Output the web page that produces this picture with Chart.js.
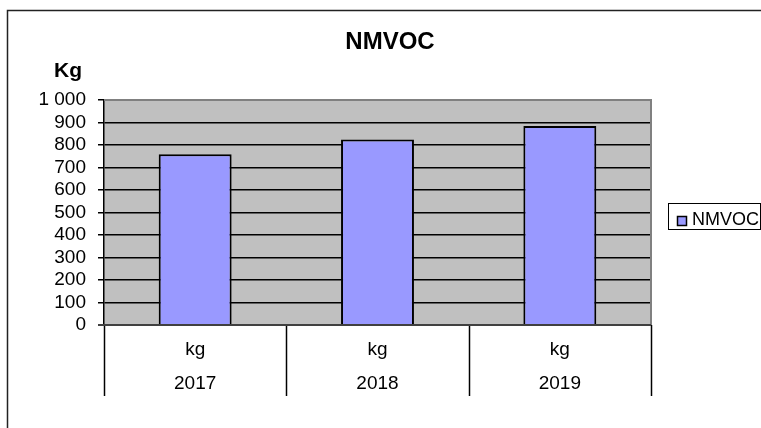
<!DOCTYPE html>
<html>
<head>
<meta charset="utf-8">
<script src="https://cdn.jsdelivr.net/npm/chart.js@4/dist/chart.umd.min.js"></script>
<style>
  html, body { margin: 0; padding: 0; background: #fff; }
  #wrap { width: 761px; height: 428px; position: relative; }
</style>
</head>
<body>
<div id="wrap"><canvas id="myChart" width="761" height="428"></canvas></div>
<script>
const years = ['2017', '2018', '2019'];
const units = ['kg', 'kg', 'kg'];
const nmvoc = [759, 825, 884];
const yTicks = [0, 100, 200, 300, 400, 500, 600, 700, 800, 900, 1000];

const FONT = "'Liberation Sans', Arial, sans-serif";

// grey plot area, outer frame, separators, title, legend
const excelLook = {
    id: 'excelLook',
    beforeDraw(chart) {
        const { ctx, chartArea: { left, top, right, bottom } } = chart;
        ctx.save();
        ctx.fillStyle = '#C0C0C0';
        ctx.fillRect(left, top, right - left, bottom - top);
        ctx.restore();
    },
    afterDraw(chart) {
        const { ctx, chartArea: { left, top, right, bottom }, scales: { x } } = chart;
        ctx.save();
        // plot frame (top and right)
        ctx.strokeStyle = '#808080';
        ctx.lineWidth = 2;
        ctx.beginPath();
        ctx.moveTo(left, top);
        ctx.lineTo(right, top);
        ctx.lineTo(right, bottom);
        ctx.stroke();

        // category separators below the axis
        ctx.strokeStyle = '#000';
        ctx.lineWidth = 1.5;
        const edges = [left];
        for (let i = 0; i < years.length - 1; i++) {
            edges.push((x.getPixelForValue(i) + x.getPixelForValue(i + 1)) / 2);
        }
        edges.push(right);
        edges.forEach(px => {
            ctx.beginPath();
            ctx.moveTo(Math.round(px) + 0.5, bottom);
            ctx.lineTo(Math.round(px) + 0.5, 396);
            ctx.stroke();
        });

        // bottom axis line
        ctx.strokeStyle = '#404040';
        ctx.lineWidth = 2;
        ctx.beginPath();
        ctx.moveTo(left - 6, bottom);
        ctx.lineTo(right, bottom);
        ctx.stroke();

        // outer chart frame
        ctx.strokeStyle = '#222';
        ctx.lineWidth = 1.5;
        ctx.beginPath();
        ctx.moveTo(7.5, 428);
        ctx.lineTo(7.5, 10.5);
        ctx.lineTo(761, 10.5);
        ctx.stroke();

        // title and axis title
        ctx.fillStyle = '#000';
        ctx.textAlign = 'center';
        ctx.textBaseline = 'alphabetic';
        ctx.font = 'bold 24px ' + FONT;
        ctx.fillText('NMVOC', 390, 49);
        ctx.font = 'bold 21px ' + FONT;
        ctx.fillText('Kg', 68, 77);

        // legend
        ctx.strokeStyle = '#000';
        ctx.lineWidth = 1;
        ctx.strokeRect(668.5, 203.5, 92, 26);
        ctx.fillStyle = '#9999FF';
        ctx.fillRect(677.5, 216.5, 9, 9);
        ctx.lineWidth = 1.5;
        ctx.strokeRect(677.5, 216.5, 9, 9);
        ctx.fillStyle = '#000';
        ctx.textAlign = 'left';
        ctx.font = '18px ' + FONT;
        ctx.fillText('NMVOC', 692, 225);
        ctx.restore();
    }
};

const config = {
    type: 'bar',
    data: {
        labels: years.map((y, i) => [units[i], y]),
        datasets: [{
            label: 'NMVOC',
            data: nmvoc,
            backgroundColor: '#9999FF',
            borderColor: '#000',
            borderWidth: 2,
            barPercentage: 0.4,
            categoryPercentage: 1
        }]
    },
    options: {
        responsive: false,
        animation: false,
        layout: { padding: { left: 0, top: 100, right: 110, bottom: 0 } },
        plugins: {
            legend: { display: false },
            title: { display: false },
            tooltip: { enabled: false }
        },
        scales: {
            x: {
                grid: { display: false, drawTicks: false },
                border: { display: false },
                ticks: {
                    color: '#000',
                    font: { family: FONT, size: 19, lineHeight: 1.79 },
                    padding: 8,
                    maxRotation: 0,
                    autoSkip: false
                },
                afterFit(scale) { scale.height = 103; }
            },
            y: {
                min: 0,
                max: 1000,
                afterBuildTicks(scale) { scale.ticks = yTicks.map(v => ({ value: v })); },
                grid: {
                    color: ctx => (ctx.tick && (ctx.tick.value === 1000 || ctx.tick.value === 0)) ? 'rgba(0,0,0,0)' : '#000',
                    tickColor: '#000',
                    tickLength: 6,
                    lineWidth: 1.5
                },
                border: { color: '#000', width: 1.5 },
                ticks: {
                    color: '#000',
                    font: { family: FONT, size: 19 },
                    padding: 12,
                    autoSkip: false,
                    callback: v => String(v).replace(/\B(?=(\d{3})+(?!\d))/g, ' ')
                },
                afterFit(scale) { scale.width = 104; }
            }
        }
    },
    plugins: [excelLook]
};

new Chart(document.getElementById('myChart'), config);
</script>
</body>
</html>
